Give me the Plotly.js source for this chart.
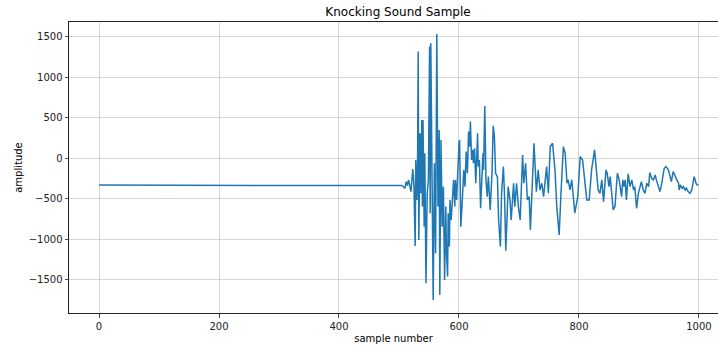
<!DOCTYPE html>
<html>
<head>
<meta charset="utf-8">
<script src="https://cdn.plot.ly/plotly-3.0.1.min.js"></script>
<style>html,body{margin:0;padding:0;background:#fff;overflow:hidden}#chart{width:718px;height:347px}</style>
</head>
<body>
<div id="chart"></div>
<script>
const chartTitle = "Knocking Sound Sample";
const xLabel = "sample number";
const yLabel = "amplitude";
const xTicks = [0, 200, 400, 600, 800, 1000];
const yTicks = [-1500, -1000, -500, 0, 500, 1000, 1500];

const sampleNumber = [0,100,200,300,400,505,510,512,514,516,518,520,523,525,527,528,530,531,532,533,535,536,538,539,540,542,543,545,547,549,551,552,553,555,557,559,561,563,565,567,568,570,572,574,576,578,579,581,582,584,585,587,589,591,593,594,596,598,600,601,602,603,605,608,610,612,614,616,618,619,621,623,624,626,628,631,632,634,636,638,640,641,643,645,647,649,651,652,655,657,659,661,664,666,669,671,674,676,678,680,682,685,687,691,693,696,699,702,706,708,711,714,717,719,725,729,732,735,738,741,746,749,752,756,760,763,767,770,774,777,780,782,785,788,791,793,798,802,806,810,813,817,821,826,830,832,835,838,841,845,847,850,852,854,857,860,864,867,871,873,875,877,879,882,885,888,891,893,896,899,902,904,907,910,913,916,918,921,924,927,929,932,935,938,942,945,949,952,954,957,960,963,966,967,969,972,974,977,979,982,985,988,991,992,995,997,999];

const amplitude = [-330,-333,-337,-338,-336,-334,-369,-287,-335,-266,-349,-410,-131,-349,-1080,-20,-513,-20,1316,-1006,309,-431,473,-595,473,-842,62,-1540,-431,-266,1378,-677,1419,-349,-1746,-61,-1170,1534,-595,350,-1684,227,-842,-349,-1500,-595,-1129,-1458,-677,-1088,-513,-760,-431,-266,-595,-266,-513,-102,186,227,-513,-842,-595,-143,-349,83,-184,330,145,453,-20,104,-61,124,-307,309,-102,-20,-616,-225,62,-143,646,-266,-472,-225,-513,-636,-184,400,268,-184,-225,-760,-1088,-431,-102,-472,-1138,-595,-349,-513,-760,-307,-595,-307,-595,-760,42,-307,-61,-513,-472,-883,186,-410,-143,-390,-307,-472,-102,-431,145,186,-143,-595,-945,-431,145,62,-307,-266,-390,-266,-513,-677,-472,21,-20,-349,-513,-513,-143,104,-225,-390,-431,-266,-534,-143,-184,-349,-225,-431,-636,-595,-184,-266,-472,-266,-349,-266,-513,-192,-349,-266,-390,-349,-616,-431,-349,-287,-390,-431,-307,-349,-176,-246,-266,-205,-266,-349,-410,-307,-123,-102,-143,-225,-287,-164,-225,-266,-307,-390,-328,-369,-349,-390,-369,-410,-431,-390,-266,-225,-307,-328,-328];

const trace = {
  x: sampleNumber,
  y: amplitude,
  type: "scatter",
  mode: "lines",
  line: {color: "#1f77b4", width: 1.5},
  hoverinfo: "skip"
};

const axisCommon = {
  showgrid: true,
  gridcolor: "#cccccc",
  gridwidth: 0.8,
  showline: true,
  linecolor: "#222222",
  linewidth: 1,
  ticks: "outside",
  ticklen: 3.5,
  tickwidth: 0.8,
  tickcolor: "#222222",
  zeroline: false,
  tickfont: {family: "DejaVu Sans", size: 10, color: "#222222"},
  automargin: false
};

const layout = {
  width: 718,
  height: 347,
  margin: {l: 69, r: 0, t: 22, b: 34, pad: 0},
  paper_bgcolor: "#ffffff",
  plot_bgcolor: "#ffffff",
  showlegend: false,
  font: {family: "DejaVu Sans", size: 10, color: "#222222"},
  title: {
    text: chartTitle,
    font: {family: "DejaVu Sans", size: 12, color: "#000000"},
    x: 0.507, xref: "paper", xanchor: "center",
    y: 0.966, yref: "container", yanchor: "middle"
  },
  xaxis: Object.assign({}, axisCommon, {
    range: [-50, 1031.7],
    tickmode: "array",
    tickvals: xTicks,
    ticktext: xTicks.map(String),
    mirror: true,
    title: {text: xLabel, font: {family: "DejaVu Sans", size: 10, color: "#000000"}, standoff: 4}
  }),
  yaxis: Object.assign({}, axisCommon, {
    range: [-1907, 1681],
    tickmode: "array",
    tickvals: yTicks,
    ticktext: yTicks.map(v => v < 0 ? "\u2212" + Math.abs(v) : String(v)),
    mirror: false,
    title: {text: yLabel, font: {family: "DejaVu Sans", size: 10, color: "#000000"}, standoff: 4}
  })
};

Plotly.newPlot("chart", [trace], layout, {staticPlot: true, displayModeBar: false});
</script>
</body>
</html>
